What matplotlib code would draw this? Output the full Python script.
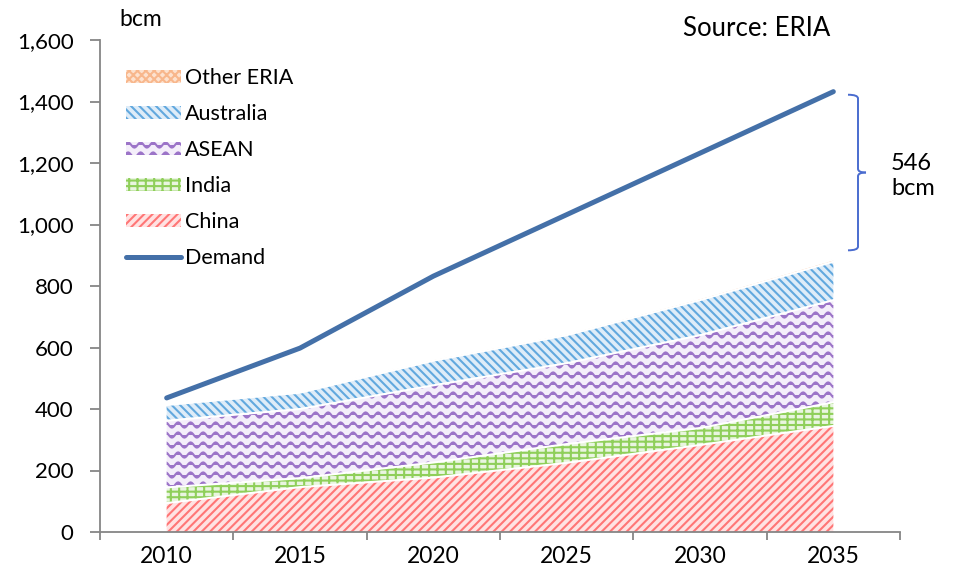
import warnings
import numpy as np
import matplotlib
matplotlib.use("Agg")
import matplotlib.pyplot as plt
import matplotlib.hatch as mhatch
from matplotlib.path import Path
from matplotlib.lines import Line2D
from matplotlib.patches import Patch, PathPatch
import matplotlib.transforms as mtrans

warnings.filterwarnings("ignore")

years = ["2010", "2015", "2020", "2025", "2030", "2035"]
china = [94, 146, 177, 225, 283, 345]
india = [51, 29, 49, 61, 55, 77]
asean = [217, 225, 251, 263, 302, 332]
australia = [51, 53, 80, 91, 114, 125]
other_eria = [4, 4, 5, 5, 6, 7]
demand = [436, 598, 832, 1032, 1232, 1432]
gap_label = "546\nbcm"


# wavy hatch for the ASEAN band ('~')
class WaveHatch(mhatch.HatchPatternBase):
    def __init__(self, hatch, density):
        self.num_rows = hatch.count('~') * 5
        self.num_pts = 97
        self.num_vertices = self.num_rows * self.num_pts

    def set_vertices_and_codes(self, vertices, codes):
        t = np.linspace(0, 1, self.num_pts)
        for i in range(self.num_rows):
            y0 = (i + 0.5) / self.num_rows
            s = slice(i * self.num_pts, (i + 1) * self.num_pts)
            vertices[s, 0] = t
            vertices[s, 1] = y0 + 0.026 * np.sin(2 * np.pi * 8 * t)
            codes[s] = Path.LINETO
            codes[i * self.num_pts] = Path.MOVETO


mhatch._hatch_types.append(WaveHatch)

plt.rcParams['font.family'] = ['Lato', 'DejaVu Sans']
plt.rcParams['hatch.linewidth'] = 1.5

fig = plt.figure(figsize=(9.55, 5.73), dpi=100)
ax = fig.add_axes([100 / 955, 41 / 573, 800 / 955, 492 / 573])

x = np.arange(len(years))
layers = [
    ("China", china, '#ffe2e2', '#ff7676', '////'),
    ("India", india, '#e9f5e0', '#8fcf5a', '++-'),
    ("ASEAN", asean, '#f4eefa', '#9c74c8', '~~'),
    ("Australia", australia, '#deecf8', '#62a8de', '\\\\\\\\'),
    ("Other ERIA", other_eria, '#fde2cf', '#f8b78c', 'xxxx'),
]

base = np.zeros(len(years))
handles = {}
for name, vals, face, hc, hatch in layers:
    top = base + np.array(vals)
    ax.fill_between(x, base, top, facecolor=face, edgecolor=hc,
                    hatch=hatch, linewidth=0, zorder=2)
    ax.plot(x, top, color='white', lw=1.5, zorder=3)
    handles[name] = Patch(facecolor=face, edgecolor=hc, hatch=hatch, linewidth=0)
    base = top

ax.plot(x, demand, color='#4470a8', lw=3.6, solid_capstyle='round', zorder=4)
handles["Demand"] = Line2D([], [], color='#4470a8', lw=3.6, solid_capstyle='round')

ax.set_xlim(-0.5, 5.5)
ax.set_ylim(0, 1600)
ax.set_yticks(np.arange(0, 1601, 200))
ax.set_yticklabels([f"{v:,}" for v in range(0, 1601, 200)])
ax.set_xticks(x)
ax.set_xticklabels(years)
ax.set_xticks(np.arange(-0.5, 5.6, 1), minor=True)
ax.tick_params(axis='x', which='major', length=0, pad=10, labelsize=16.5)
ax.tick_params(axis='x', which='minor', length=6, width=1.3, color='#868686')
ax.tick_params(axis='y', length=7, width=1.3, color='#868686', pad=12, labelsize=16)
for s in ['top', 'right']:
    ax.spines[s].set_visible(False)
for s in ['left', 'bottom']:
    ax.spines[s].set_color('#868686')
    ax.spines[s].set_linewidth(1.3)

# brace showing the gap in 2035
total = base[-1]
top_y, bot_y = demand[-1] - 10, total + 30
mid = (top_y + bot_y) / 2
trans = mtrans.blended_transform_factory(fig.transFigure, ax.transData)
x0, x1, x2 = 848 / 955, 858 / 955, 866 / 955
r = 12
brace_codes = [Path.MOVETO, Path.CURVE3, Path.CURVE3, Path.LINETO, Path.CURVE3, Path.CURVE3]
upper = [(x0, top_y), (x1, top_y), (x1, top_y - r), (x1, mid + r), (x1, mid), (x2, mid)]
lower = [(x2, mid), (x1, mid), (x1, mid - r), (x1, bot_y + r), (x1, bot_y), (x0, bot_y)]
for v in [upper, lower]:
    ax.add_patch(PathPatch(Path(v, brace_codes), transform=trans, facecolor='none',
                           edgecolor='#4a6ccf', lw=1.4, clip_on=False))
fig.text(891 / 955, 1 - 176 / 573, gap_label, fontsize=17, va='center', ha='left',
         linespacing=1.25)

fig.text(119 / 955, 1 - 20 / 573, "bcm", fontsize=16.5, va='center', ha='left')
fig.text(683 / 955, 1 - 28 / 573, "Source: ERIA", fontsize=18.5, va='center', ha='left')

order = ["Other ERIA", "Australia", "ASEAN", "India", "China", "Demand"]
ax.legend([handles[k] for k in order], order, loc='upper left',
          bbox_to_anchor=(126 / 955, 1 - 68 / 573), bbox_transform=fig.transFigure,
          frameon=False, fontsize=15.5, handlelength=2.55, handleheight=0.56,
          handletextpad=0.2, labelspacing=0.74, borderaxespad=0, borderpad=0)

fig.savefig("out.png", dpi=100)
